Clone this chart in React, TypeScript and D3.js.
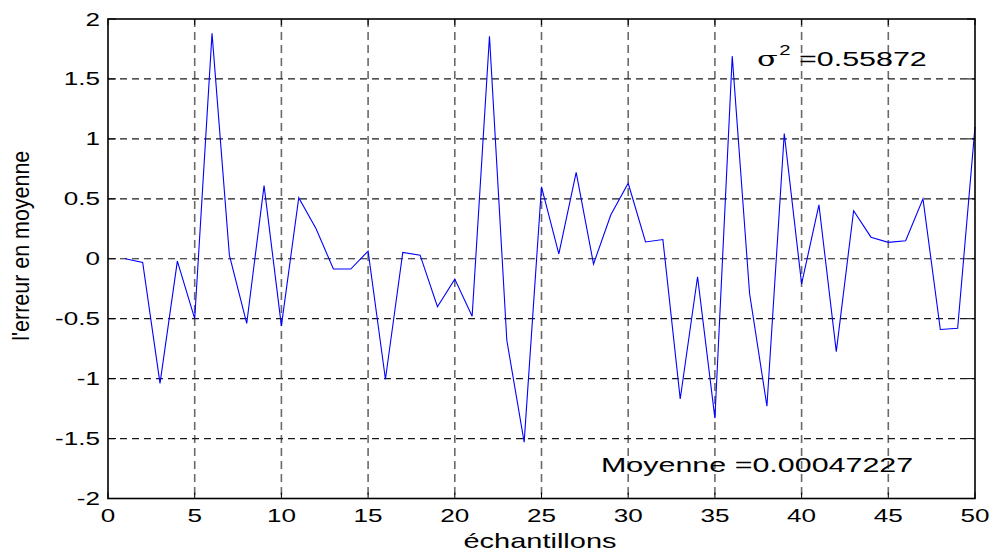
import React from "react";
import * as d3 from "d3";

const samples: number[] = d3.range(1, 51);
const errors: number[] = [
  0.0, -0.03, -1.04, -0.02, -0.5, 1.88, 0.03, -0.54, 0.61, -0.56,
  0.51, 0.25, -0.086, -0.086, 0.064, -1.005, 0.053, 0.03, -0.4, -0.17,
  -0.48, 1.856, -0.68, -1.53, 0.6, 0.04, 0.72, -0.044, 0.367, 0.63,
  0.14, 0.16, -1.17, -0.15, -1.33, 1.69, -0.29, -1.23, 1.045, -0.21,
  0.45, -0.775, 0.4, 0.18, 0.137, 0.15, 0.5, -0.59, -0.58, 1.1,
];
const xTicks: number[] = [0, 5, 10, 15, 20, 25, 30, 35, 40, 45, 50];
const yTicks: number[] = [-2, -1.5, -1, -0.5, 0, 0.5, 1, 1.5, 2];
const xLabel = "échantillons";
const yLabel = "l'erreur en moyenne";
const varianceText = "=0.55872";
const meanText = "Moyenne =0.00047227";

const W = 993;
const H = 552;
const L = 108, R = 975, T = 19, B = 498.5;
const SX = 1.45;
const FONT = "'Liberation Sans', Arial, Helvetica, sans-serif";

export default function App() {
  const x = d3.scaleLinear().domain([0, 50]).range([L, R]);
  const y = d3.scaleLinear().domain([-2, 2]).range([B, T]);
  const line = d3
    .line<number>()
    .x((_, i) => x(samples[i]))
    .y((d) => y(d));
  const fmt = (v: number) => String(v);

  return (
    <svg
      width={W}
      height={H}
      style={{ position: "absolute", left: 0, top: 0, background: "#fff" }}
      fontFamily={FONT}
    >
      <rect x={0} y={0} width={W} height={H} fill="#fff" />
      {xTicks.slice(1, -1).map((t) => (
        <line
          key={"gx" + t}
          x1={x(t)}
          x2={x(t)}
          y1={T}
          y2={B}
          stroke="#6a6a6a"
          strokeWidth={1.6}
          strokeDasharray="8,5"
        />
      ))}
      {yTicks.slice(1, -1).map((t) => (
        <line
          key={"gy" + t}
          x1={L}
          x2={R}
          y1={y(t)}
          y2={y(t)}
          stroke="#1a1a1a"
          strokeWidth={1.2}
          strokeDasharray="7,5"
        />
      ))}
      <path d={line(errors) || ""} fill="none" stroke="#0000ff" strokeWidth={1.1} />
      <rect x={L} y={T} width={R - L} height={B - T} fill="none" stroke="#000" strokeWidth={1.6} />
      {xTicks.map((t) => (
        <g key={"tx" + t}>
          <line x1={x(t)} x2={x(t)} y1={B} y2={B - 6} stroke="#000" strokeWidth={1} />
          <line x1={x(t)} x2={x(t)} y1={T} y2={T + 6} stroke="#000" strokeWidth={1} />
          <text
            transform={`translate(${x(t)},522) scale(${SX},1)`}
            textAnchor="middle"
            fontSize={18}
            fill="#000"
          >
            {fmt(t)}
          </text>
        </g>
      ))}
      {yTicks.map((t) => (
        <g key={"ty" + t}>
          <line x1={L} x2={L + 8} y1={y(t)} y2={y(t)} stroke="#000" strokeWidth={1} />
          <line x1={R} x2={R - 8} y1={y(t)} y2={y(t)} stroke="#000" strokeWidth={1} />
          <text
            transform={`translate(100,${y(t) + 6.5}) scale(${SX},1)`}
            textAnchor="end"
            fontSize={18}
            fill="#000"
          >
            {fmt(t)}
          </text>
        </g>
      ))}
      <text
        transform={`translate(540,548) scale(${SX},1)`}
        textAnchor="middle"
        fontSize={20}
        fill="#000"
      >
        {xLabel}
      </text>
      <text
        transform={`translate(29,${(T + B) / 2 - 13}) scale(${SX},1) rotate(-90)`}
        textAnchor="middle"
        fontSize={17}
        fill="#000"
        textLength={190}
        lengthAdjust="spacingAndGlyphs"
      >
        {yLabel}
      </text>
      <text transform={`translate(757,66) scale(${SX},1)`} fontSize={21} fill="#000">
        <tspan fontFamily="'DejaVu Serif', serif">σ</tspan>
        <tspan fontSize={14} dy={-11} dx={1}>2</tspan>
        <tspan dy={11}> {varianceText}</tspan>
      </text>
      <text transform={`translate(601,472) scale(${SX},1)`} fontSize={21} fill="#000">
        {meanText}
      </text>
    </svg>
  );
}
